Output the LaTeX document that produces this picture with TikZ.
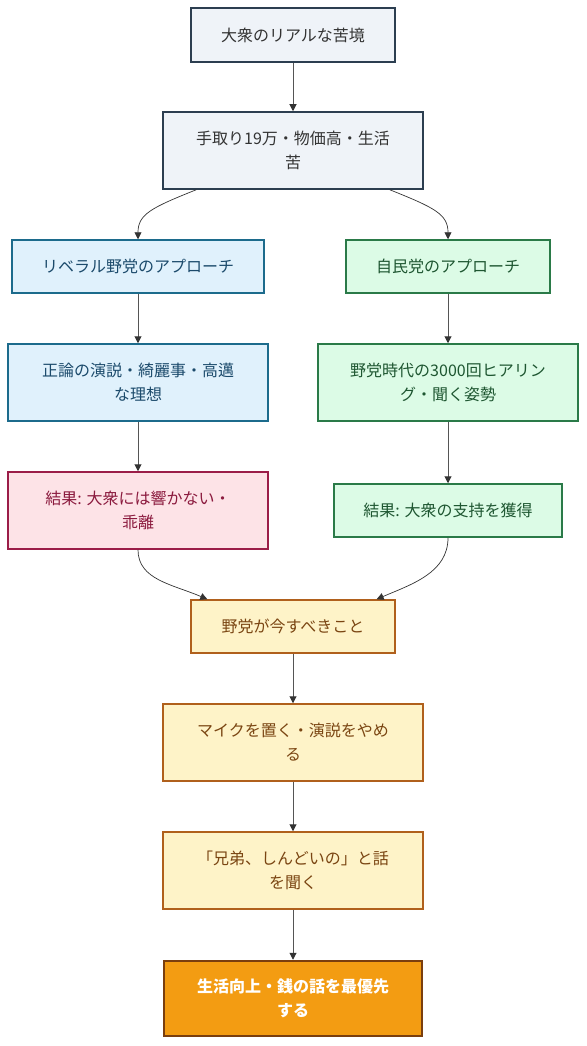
\documentclass[tikz,border=0pt]{standalone}
\usepackage{fontspec}
\setmainfont{Noto Sans CJK JP}
\usetikzlibrary{arrows.meta,calc}
\definecolor{topfill}{HTML}{EFF3F8}
\definecolor{topdraw}{HTML}{2C3E50}
\definecolor{toptext}{HTML}{333333}
\definecolor{bluefill}{HTML}{E0F1FC}
\definecolor{bluedraw}{HTML}{1C6B8C}
\definecolor{bluetext}{HTML}{1B4A6B}
\definecolor{greenfill}{HTML}{DCFBE6}
\definecolor{greendraw}{HTML}{2A7A48}
\definecolor{greentext}{HTML}{1E5631}
\definecolor{pinkfill}{HTML}{FDE3E7}
\definecolor{pinkdraw}{HTML}{9B1D48}
\definecolor{pinktext}{HTML}{8B1A3E}
\definecolor{yelfill}{HTML}{FEF3C8}
\definecolor{yeldraw}{HTML}{B0601C}
\definecolor{yeltext}{HTML}{7A4512}
\definecolor{orfill}{HTML}{F39C12}
\definecolor{ordraw}{HTML}{7A3E0E}
\definecolor{edgecol}{HTML}{555555}
\definecolor{tipcol}{HTML}{333333}
\tikzset{
  box/.style={rectangle, draw, line width=1.5pt, align=center, inner sep=0pt,
    font=\fontsize{16}{24}\selectfont},
  topbox/.style={box, fill=topfill, draw=topdraw, text=toptext},
  bluebox/.style={box, fill=bluefill, draw=bluedraw, text=bluetext},
  greenbox/.style={box, fill=greenfill, draw=greendraw, text=greentext},
  pinkbox/.style={box, fill=pinkfill, draw=pinkdraw, text=pinktext},
  yelbox/.style={box, fill=yelfill, draw=yeldraw, text=yeltext},
  orbox/.style={box, fill=orfill, draw=ordraw, line width=2.5pt, text=white, font=\fontsize{16}{24}\selectfont\bfseries},
  conn/.style={draw=edgecol, line width=1pt, -{Triangle[length=7pt,width=7pt,fill=tipcol,color=tipcol]}},
  curv/.style={draw=tipcol, line width=0.7pt, -{Triangle[length=7pt,width=7pt,fill=tipcol,color=tipcol]}}
}
\begin{document}
\begin{tikzpicture}[x=1pt,y=-1pt]
\useasboundingbox (0,0) rectangle (586,1046);
\node[topbox, minimum width=204pt, minimum height=54pt] (n1) at (293,35) {大衆のリアルな苦境};
\node[topbox, minimum width=260pt, minimum height=77pt] (n2) at (293,150.5) {手取り19万・物価高・生活\\苦};
\node[bluebox, minimum width=252pt, minimum height=53pt] (n3) at (138,266.5) {リベラル野党のアプローチ};
\node[greenbox, minimum width=204pt, minimum height=53pt] (n4) at (448,266.5) {自民党のアプローチ};
\node[bluebox, minimum width=260pt, minimum height=77pt] (n5) at (138,382.5) {正論の演説・綺麗事・高邁\\な理想};
\node[greenbox, minimum width=260pt, minimum height=77pt] (n6) at (448,382.5) {野党時代の3000回ヒアリン\\グ・聞く姿勢};
\node[pinkbox, minimum width=260pt, minimum height=77pt] (n7) at (138,510.5) {結果: 大衆には響かない・\\乖離};
\node[greenbox, minimum width=228pt, minimum height=53pt] (n8) at (448,510.5) {結果: 大衆の支持を獲得};
\node[yelbox, minimum width=204pt, minimum height=53pt] (n9) at (293,626.5) {野党が今すべきこと};
\node[yelbox, minimum width=260pt, minimum height=77pt] (n10) at (293,742.5) {マイクを置く・演説をやめ\\る};
\node[yelbox, minimum width=260pt, minimum height=77pt] (n11) at (293,870.5) {「兄弟、しんどいの」と話\\を聞く};
\node[orbox, minimum width=258pt, minimum height=75pt] (n12) at (293,998.5) {生活向上・銭の話を最優先\\する};

\draw[conn] (n1) -- (n2);
\draw[curv] ($(n2.south west)!0.13!(n2.south east)$) .. controls ++(-45,18) and ++(0,-25) .. (n3.north);
\draw[curv] ($(n2.south west)!0.87!(n2.south east)$) .. controls ++(45,18) and ++(0,-25) .. (n4.north);
\draw[conn] (n3) -- (n5);
\draw[conn] (n4) -- (n6);
\draw[conn] (n5) -- (n7);
\draw[conn] (n6) -- (n8);
\draw[curv] (n7.south) .. controls ++(0,30) and ++(-35,-15) .. ($(n9.north west)!0.083!(n9.north east)$);
\draw[curv] (n8.south) .. controls ++(0,35) and ++(35,-15) .. ($(n9.north west)!0.907!(n9.north east)$);
\draw[conn] (n9) -- (n10);
\draw[conn] (n10) -- (n11);
\draw[conn] (n11) -- (n12);
\end{tikzpicture}
\end{document}
